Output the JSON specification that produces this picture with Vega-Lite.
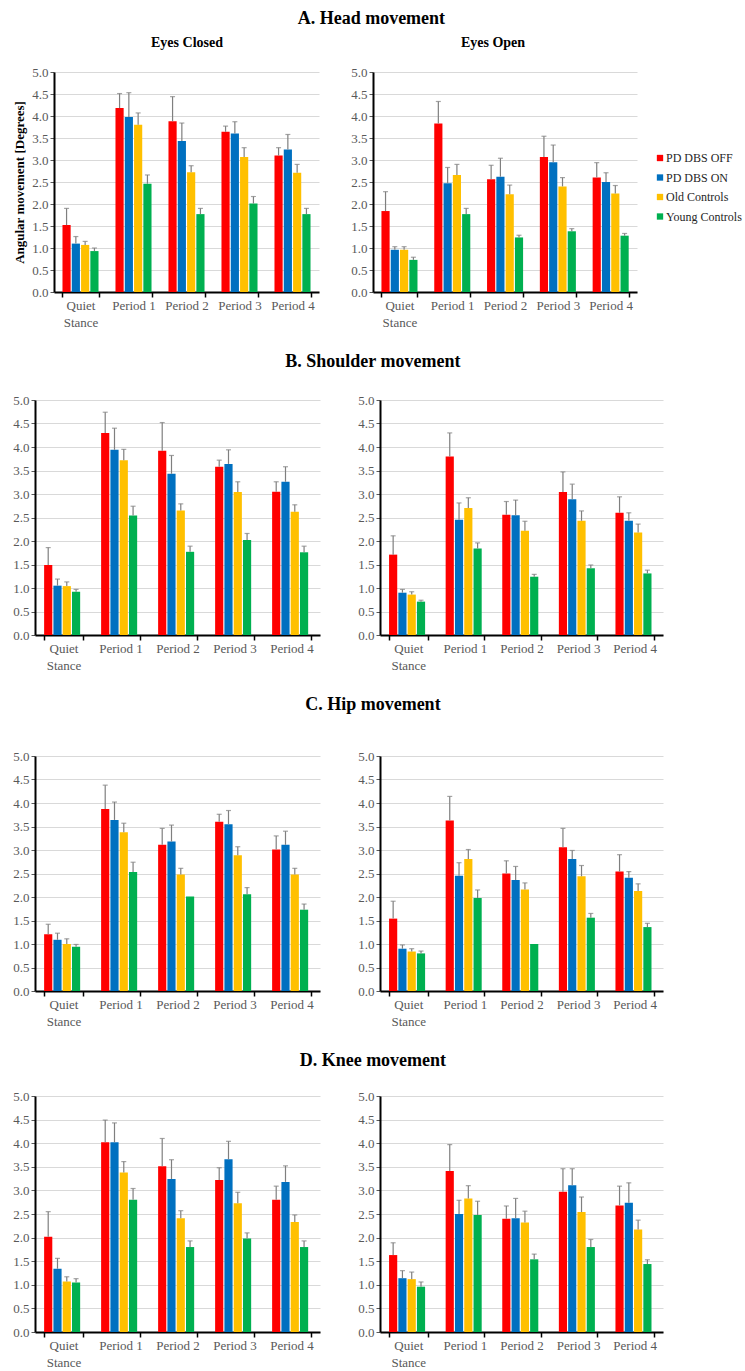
{
  "$schema": "https://vega.github.io/schema/vega-lite/v6.json",
  "description": "Angular movement by period for head, shoulder, hip and knee, eyes closed and eyes open.",
  "padding": {"left": 12, "top": 10, "right": 0, "bottom": 0},
  "background": "white",
  "datasets": {
    "movement": [
      {"region": "Head", "eyes": "Closed", "period": "Quiet Stance", "group": "PD DBS OFF", "mean": 1.52, "upper": 1.90},
      {"region": "Head", "eyes": "Closed", "period": "Quiet Stance", "group": "PD DBS ON", "mean": 1.10, "upper": 1.26},
      {"region": "Head", "eyes": "Closed", "period": "Quiet Stance", "group": "Old Controls", "mean": 1.07, "upper": 1.15},
      {"region": "Head", "eyes": "Closed", "period": "Quiet Stance", "group": "Young  Controls", "mean": 0.93, "upper": 1.00},
      {"region": "Head", "eyes": "Closed", "period": "Period 1", "group": "PD DBS OFF", "mean": 4.18, "upper": 4.51},
      {"region": "Head", "eyes": "Closed", "period": "Period 1", "group": "PD DBS ON", "mean": 3.98, "upper": 4.53},
      {"region": "Head", "eyes": "Closed", "period": "Period 1", "group": "Old Controls", "mean": 3.80, "upper": 4.07},
      {"region": "Head", "eyes": "Closed", "period": "Period 1", "group": "Young  Controls", "mean": 2.46, "upper": 2.66},
      {"region": "Head", "eyes": "Closed", "period": "Period 2", "group": "PD DBS OFF", "mean": 3.88, "upper": 4.44},
      {"region": "Head", "eyes": "Closed", "period": "Period 2", "group": "PD DBS ON", "mean": 3.43, "upper": 3.84},
      {"region": "Head", "eyes": "Closed", "period": "Period 2", "group": "Old Controls", "mean": 2.72, "upper": 2.87},
      {"region": "Head", "eyes": "Closed", "period": "Period 2", "group": "Young  Controls", "mean": 1.77, "upper": 1.90},
      {"region": "Head", "eyes": "Closed", "period": "Period 3", "group": "PD DBS OFF", "mean": 3.64, "upper": 3.77},
      {"region": "Head", "eyes": "Closed", "period": "Period 3", "group": "PD DBS ON", "mean": 3.60, "upper": 3.87},
      {"region": "Head", "eyes": "Closed", "period": "Period 3", "group": "Old Controls", "mean": 3.07, "upper": 3.28},
      {"region": "Head", "eyes": "Closed", "period": "Period 3", "group": "Young  Controls", "mean": 2.01, "upper": 2.17},
      {"region": "Head", "eyes": "Closed", "period": "Period 4", "group": "PD DBS OFF", "mean": 3.10, "upper": 3.28},
      {"region": "Head", "eyes": "Closed", "period": "Period 4", "group": "PD DBS ON", "mean": 3.24, "upper": 3.58},
      {"region": "Head", "eyes": "Closed", "period": "Period 4", "group": "Old Controls", "mean": 2.71, "upper": 2.90},
      {"region": "Head", "eyes": "Closed", "period": "Period 4", "group": "Young  Controls", "mean": 1.77, "upper": 1.90},

      {"region": "Head", "eyes": "Open", "period": "Quiet Stance", "group": "PD DBS OFF", "mean": 1.84, "upper": 2.28},
      {"region": "Head", "eyes": "Open", "period": "Quiet Stance", "group": "PD DBS ON", "mean": 0.96, "upper": 1.03},
      {"region": "Head", "eyes": "Open", "period": "Quiet Stance", "group": "Old Controls", "mean": 0.96, "upper": 1.03},
      {"region": "Head", "eyes": "Open", "period": "Quiet Stance", "group": "Young  Controls", "mean": 0.73, "upper": 0.79},
      {"region": "Head", "eyes": "Open", "period": "Period 1", "group": "PD DBS OFF", "mean": 3.83, "upper": 4.33},
      {"region": "Head", "eyes": "Open", "period": "Period 1", "group": "PD DBS ON", "mean": 2.47, "upper": 2.83},
      {"region": "Head", "eyes": "Open", "period": "Period 1", "group": "Old Controls", "mean": 2.66, "upper": 2.90},
      {"region": "Head", "eyes": "Open", "period": "Period 1", "group": "Young  Controls", "mean": 1.77, "upper": 1.90},
      {"region": "Head", "eyes": "Open", "period": "Period 2", "group": "PD DBS OFF", "mean": 2.56, "upper": 2.88},
      {"region": "Head", "eyes": "Open", "period": "Period 2", "group": "PD DBS ON", "mean": 2.62, "upper": 3.04},
      {"region": "Head", "eyes": "Open", "period": "Period 2", "group": "Old Controls", "mean": 2.22, "upper": 2.43},
      {"region": "Head", "eyes": "Open", "period": "Period 2", "group": "Young  Controls", "mean": 1.24, "upper": 1.29},
      {"region": "Head", "eyes": "Open", "period": "Period 3", "group": "PD DBS OFF", "mean": 3.07, "upper": 3.54},
      {"region": "Head", "eyes": "Open", "period": "Period 3", "group": "PD DBS ON", "mean": 2.95, "upper": 3.34},
      {"region": "Head", "eyes": "Open", "period": "Period 3", "group": "Old Controls", "mean": 2.40, "upper": 2.60},
      {"region": "Head", "eyes": "Open", "period": "Period 3", "group": "Young  Controls", "mean": 1.38, "upper": 1.44},
      {"region": "Head", "eyes": "Open", "period": "Period 4", "group": "PD DBS OFF", "mean": 2.60, "upper": 2.94},
      {"region": "Head", "eyes": "Open", "period": "Period 4", "group": "PD DBS ON", "mean": 2.50, "upper": 2.71},
      {"region": "Head", "eyes": "Open", "period": "Period 4", "group": "Old Controls", "mean": 2.24, "upper": 2.42},
      {"region": "Head", "eyes": "Open", "period": "Period 4", "group": "Young  Controls", "mean": 1.28, "upper": 1.33},

      {"region": "Shoulder", "eyes": "Closed", "period": "Quiet Stance", "group": "PD DBS OFF", "mean": 1.49, "upper": 1.86},
      {"region": "Shoulder", "eyes": "Closed", "period": "Quiet Stance", "group": "PD DBS ON", "mean": 1.05, "upper": 1.19},
      {"region": "Shoulder", "eyes": "Closed", "period": "Quiet Stance", "group": "Old Controls", "mean": 1.04, "upper": 1.13},
      {"region": "Shoulder", "eyes": "Closed", "period": "Quiet Stance", "group": "Young  Controls", "mean": 0.92, "upper": 0.97},
      {"region": "Shoulder", "eyes": "Closed", "period": "Period 1", "group": "PD DBS OFF", "mean": 4.30, "upper": 4.74},
      {"region": "Shoulder", "eyes": "Closed", "period": "Period 1", "group": "PD DBS ON", "mean": 3.94, "upper": 4.40},
      {"region": "Shoulder", "eyes": "Closed", "period": "Period 1", "group": "Old Controls", "mean": 3.72, "upper": 3.95},
      {"region": "Shoulder", "eyes": "Closed", "period": "Period 1", "group": "Young  Controls", "mean": 2.54, "upper": 2.74},
      {"region": "Shoulder", "eyes": "Closed", "period": "Period 2", "group": "PD DBS OFF", "mean": 3.92, "upper": 4.52},
      {"region": "Shoulder", "eyes": "Closed", "period": "Period 2", "group": "PD DBS ON", "mean": 3.43, "upper": 3.82},
      {"region": "Shoulder", "eyes": "Closed", "period": "Period 2", "group": "Old Controls", "mean": 2.65, "upper": 2.79},
      {"region": "Shoulder", "eyes": "Closed", "period": "Period 2", "group": "Young  Controls", "mean": 1.77, "upper": 1.89},
      {"region": "Shoulder", "eyes": "Closed", "period": "Period 3", "group": "PD DBS OFF", "mean": 3.58, "upper": 3.72},
      {"region": "Shoulder", "eyes": "Closed", "period": "Period 3", "group": "PD DBS ON", "mean": 3.64, "upper": 3.94},
      {"region": "Shoulder", "eyes": "Closed", "period": "Period 3", "group": "Old Controls", "mean": 3.04, "upper": 3.26},
      {"region": "Shoulder", "eyes": "Closed", "period": "Period 3", "group": "Young  Controls", "mean": 2.02, "upper": 2.16},
      {"region": "Shoulder", "eyes": "Closed", "period": "Period 4", "group": "PD DBS OFF", "mean": 3.05, "upper": 3.26},
      {"region": "Shoulder", "eyes": "Closed", "period": "Period 4", "group": "PD DBS ON", "mean": 3.26, "upper": 3.58},
      {"region": "Shoulder", "eyes": "Closed", "period": "Period 4", "group": "Old Controls", "mean": 2.62, "upper": 2.77},
      {"region": "Shoulder", "eyes": "Closed", "period": "Period 4", "group": "Young  Controls", "mean": 1.76, "upper": 1.89},

      {"region": "Shoulder", "eyes": "Open", "period": "Quiet Stance", "group": "PD DBS OFF", "mean": 1.71, "upper": 2.11},
      {"region": "Shoulder", "eyes": "Open", "period": "Quiet Stance", "group": "PD DBS ON", "mean": 0.90, "upper": 0.97},
      {"region": "Shoulder", "eyes": "Open", "period": "Quiet Stance", "group": "Old Controls", "mean": 0.86, "upper": 0.92},
      {"region": "Shoulder", "eyes": "Open", "period": "Quiet Stance", "group": "Young  Controls", "mean": 0.71, "upper": 0.74},
      {"region": "Shoulder", "eyes": "Open", "period": "Period 1", "group": "PD DBS OFF", "mean": 3.80, "upper": 4.30},
      {"region": "Shoulder", "eyes": "Open", "period": "Period 1", "group": "PD DBS ON", "mean": 2.45, "upper": 2.81},
      {"region": "Shoulder", "eyes": "Open", "period": "Period 1", "group": "Old Controls", "mean": 2.70, "upper": 2.92},
      {"region": "Shoulder", "eyes": "Open", "period": "Period 1", "group": "Young  Controls", "mean": 1.84, "upper": 1.96},
      {"region": "Shoulder", "eyes": "Open", "period": "Period 2", "group": "PD DBS OFF", "mean": 2.56, "upper": 2.84},
      {"region": "Shoulder", "eyes": "Open", "period": "Period 2", "group": "PD DBS ON", "mean": 2.55, "upper": 2.87},
      {"region": "Shoulder", "eyes": "Open", "period": "Period 2", "group": "Old Controls", "mean": 2.22, "upper": 2.42},
      {"region": "Shoulder", "eyes": "Open", "period": "Period 2", "group": "Young  Controls", "mean": 1.24, "upper": 1.29},
      {"region": "Shoulder", "eyes": "Open", "period": "Period 3", "group": "PD DBS OFF", "mean": 3.04, "upper": 3.47},
      {"region": "Shoulder", "eyes": "Open", "period": "Period 3", "group": "PD DBS ON", "mean": 2.89, "upper": 3.21},
      {"region": "Shoulder", "eyes": "Open", "period": "Period 3", "group": "Old Controls", "mean": 2.43, "upper": 2.64},
      {"region": "Shoulder", "eyes": "Open", "period": "Period 3", "group": "Young  Controls", "mean": 1.42, "upper": 1.49},
      {"region": "Shoulder", "eyes": "Open", "period": "Period 4", "group": "PD DBS OFF", "mean": 2.60, "upper": 2.94},
      {"region": "Shoulder", "eyes": "Open", "period": "Period 4", "group": "PD DBS ON", "mean": 2.43, "upper": 2.60},
      {"region": "Shoulder", "eyes": "Open", "period": "Period 4", "group": "Old Controls", "mean": 2.18, "upper": 2.36},
      {"region": "Shoulder", "eyes": "Open", "period": "Period 4", "group": "Young  Controls", "mean": 1.31, "upper": 1.38},

      {"region": "Hip", "eyes": "Closed", "period": "Quiet Stance", "group": "PD DBS OFF", "mean": 1.21, "upper": 1.42},
      {"region": "Hip", "eyes": "Closed", "period": "Quiet Stance", "group": "PD DBS ON", "mean": 1.09, "upper": 1.23},
      {"region": "Hip", "eyes": "Closed", "period": "Quiet Stance", "group": "Old Controls", "mean": 1.00, "upper": 1.11},
      {"region": "Hip", "eyes": "Closed", "period": "Quiet Stance", "group": "Young  Controls", "mean": 0.94, "upper": 0.99},
      {"region": "Hip", "eyes": "Closed", "period": "Period 1", "group": "PD DBS OFF", "mean": 3.87, "upper": 4.38},
      {"region": "Hip", "eyes": "Closed", "period": "Period 1", "group": "PD DBS ON", "mean": 3.64, "upper": 4.02},
      {"region": "Hip", "eyes": "Closed", "period": "Period 1", "group": "Old Controls", "mean": 3.38, "upper": 3.57},
      {"region": "Hip", "eyes": "Closed", "period": "Period 1", "group": "Young  Controls", "mean": 2.53, "upper": 2.74},
      {"region": "Hip", "eyes": "Closed", "period": "Period 2", "group": "PD DBS OFF", "mean": 3.11, "upper": 3.46},
      {"region": "Hip", "eyes": "Closed", "period": "Period 2", "group": "PD DBS ON", "mean": 3.18, "upper": 3.53},
      {"region": "Hip", "eyes": "Closed", "period": "Period 2", "group": "Old Controls", "mean": 2.48, "upper": 2.61},
      {"region": "Hip", "eyes": "Closed", "period": "Period 2", "group": "Young  Controls", "mean": 2.01, "upper": 2.01},
      {"region": "Hip", "eyes": "Closed", "period": "Period 3", "group": "PD DBS OFF", "mean": 3.60, "upper": 3.76},
      {"region": "Hip", "eyes": "Closed", "period": "Period 3", "group": "PD DBS ON", "mean": 3.55, "upper": 3.84},
      {"region": "Hip", "eyes": "Closed", "period": "Period 3", "group": "Old Controls", "mean": 2.89, "upper": 3.07},
      {"region": "Hip", "eyes": "Closed", "period": "Period 3", "group": "Young  Controls", "mean": 2.06, "upper": 2.20},
      {"region": "Hip", "eyes": "Closed", "period": "Period 4", "group": "PD DBS OFF", "mean": 3.01, "upper": 3.30},
      {"region": "Hip", "eyes": "Closed", "period": "Period 4", "group": "PD DBS ON", "mean": 3.11, "upper": 3.40},
      {"region": "Hip", "eyes": "Closed", "period": "Period 4", "group": "Old Controls", "mean": 2.48, "upper": 2.61},
      {"region": "Hip", "eyes": "Closed", "period": "Period 4", "group": "Young  Controls", "mean": 1.73, "upper": 1.85},

      {"region": "Hip", "eyes": "Open", "period": "Quiet Stance", "group": "PD DBS OFF", "mean": 1.54, "upper": 1.91},
      {"region": "Hip", "eyes": "Open", "period": "Quiet Stance", "group": "PD DBS ON", "mean": 0.90, "upper": 0.98},
      {"region": "Hip", "eyes": "Open", "period": "Quiet Stance", "group": "Old Controls", "mean": 0.84, "upper": 0.90},
      {"region": "Hip", "eyes": "Open", "period": "Quiet Stance", "group": "Young  Controls", "mean": 0.80, "upper": 0.85},
      {"region": "Hip", "eyes": "Open", "period": "Period 1", "group": "PD DBS OFF", "mean": 3.63, "upper": 4.14},
      {"region": "Hip", "eyes": "Open", "period": "Period 1", "group": "PD DBS ON", "mean": 2.45, "upper": 2.73},
      {"region": "Hip", "eyes": "Open", "period": "Period 1", "group": "Old Controls", "mean": 2.81, "upper": 3.01},
      {"region": "Hip", "eyes": "Open", "period": "Period 1", "group": "Young  Controls", "mean": 1.98, "upper": 2.15},
      {"region": "Hip", "eyes": "Open", "period": "Period 2", "group": "PD DBS OFF", "mean": 2.50, "upper": 2.77},
      {"region": "Hip", "eyes": "Open", "period": "Period 2", "group": "PD DBS ON", "mean": 2.36, "upper": 2.65},
      {"region": "Hip", "eyes": "Open", "period": "Period 2", "group": "Old Controls", "mean": 2.16, "upper": 2.30},
      {"region": "Hip", "eyes": "Open", "period": "Period 2", "group": "Young  Controls", "mean": 1.00, "upper": 1.00},
      {"region": "Hip", "eyes": "Open", "period": "Period 3", "group": "PD DBS OFF", "mean": 3.06, "upper": 3.46},
      {"region": "Hip", "eyes": "Open", "period": "Period 3", "group": "PD DBS ON", "mean": 2.81, "upper": 2.99},
      {"region": "Hip", "eyes": "Open", "period": "Period 3", "group": "Old Controls", "mean": 2.44, "upper": 2.67},
      {"region": "Hip", "eyes": "Open", "period": "Period 3", "group": "Young  Controls", "mean": 1.56, "upper": 1.65},
      {"region": "Hip", "eyes": "Open", "period": "Period 4", "group": "PD DBS OFF", "mean": 2.54, "upper": 2.90},
      {"region": "Hip", "eyes": "Open", "period": "Period 4", "group": "PD DBS ON", "mean": 2.41, "upper": 2.54},
      {"region": "Hip", "eyes": "Open", "period": "Period 4", "group": "Old Controls", "mean": 2.13, "upper": 2.28},
      {"region": "Hip", "eyes": "Open", "period": "Period 4", "group": "Young  Controls", "mean": 1.36, "upper": 1.44},

      {"region": "Knee", "eyes": "Closed", "period": "Quiet Stance", "group": "PD DBS OFF", "mean": 2.02, "upper": 2.55},
      {"region": "Knee", "eyes": "Closed", "period": "Quiet Stance", "group": "PD DBS ON", "mean": 1.34, "upper": 1.56},
      {"region": "Knee", "eyes": "Closed", "period": "Quiet Stance", "group": "Old Controls", "mean": 1.07, "upper": 1.17},
      {"region": "Knee", "eyes": "Closed", "period": "Quiet Stance", "group": "Young  Controls", "mean": 1.05, "upper": 1.13},
      {"region": "Knee", "eyes": "Closed", "period": "Period 1", "group": "PD DBS OFF", "mean": 4.02, "upper": 4.49},
      {"region": "Knee", "eyes": "Closed", "period": "Period 1", "group": "PD DBS ON", "mean": 4.02, "upper": 4.43},
      {"region": "Knee", "eyes": "Closed", "period": "Period 1", "group": "Old Controls", "mean": 3.38, "upper": 3.61},
      {"region": "Knee", "eyes": "Closed", "period": "Period 1", "group": "Young  Controls", "mean": 2.80, "upper": 3.04},
      {"region": "Knee", "eyes": "Closed", "period": "Period 2", "group": "PD DBS OFF", "mean": 3.51, "upper": 4.10},
      {"region": "Knee", "eyes": "Closed", "period": "Period 2", "group": "PD DBS ON", "mean": 3.24, "upper": 3.65},
      {"region": "Knee", "eyes": "Closed", "period": "Period 2", "group": "Old Controls", "mean": 2.41, "upper": 2.57},
      {"region": "Knee", "eyes": "Closed", "period": "Period 2", "group": "Young  Controls", "mean": 1.80, "upper": 1.93},
      {"region": "Knee", "eyes": "Closed", "period": "Period 3", "group": "PD DBS OFF", "mean": 3.22, "upper": 3.48},
      {"region": "Knee", "eyes": "Closed", "period": "Period 3", "group": "PD DBS ON", "mean": 3.66, "upper": 4.04},
      {"region": "Knee", "eyes": "Closed", "period": "Period 3", "group": "Old Controls", "mean": 2.73, "upper": 2.96},
      {"region": "Knee", "eyes": "Closed", "period": "Period 3", "group": "Young  Controls", "mean": 1.98, "upper": 2.10},
      {"region": "Knee", "eyes": "Closed", "period": "Period 4", "group": "PD DBS OFF", "mean": 2.80, "upper": 3.09},
      {"region": "Knee", "eyes": "Closed", "period": "Period 4", "group": "PD DBS ON", "mean": 3.18, "upper": 3.52},
      {"region": "Knee", "eyes": "Closed", "period": "Period 4", "group": "Old Controls", "mean": 2.33, "upper": 2.48},
      {"region": "Knee", "eyes": "Closed", "period": "Period 4", "group": "Young  Controls", "mean": 1.80, "upper": 1.93},

      {"region": "Knee", "eyes": "Open", "period": "Quiet Stance", "group": "PD DBS OFF", "mean": 1.63, "upper": 1.89},
      {"region": "Knee", "eyes": "Open", "period": "Quiet Stance", "group": "PD DBS ON", "mean": 1.14, "upper": 1.30},
      {"region": "Knee", "eyes": "Open", "period": "Quiet Stance", "group": "Old Controls", "mean": 1.12, "upper": 1.27},
      {"region": "Knee", "eyes": "Open", "period": "Quiet Stance", "group": "Young  Controls", "mean": 0.96, "upper": 1.06},
      {"region": "Knee", "eyes": "Open", "period": "Period 1", "group": "PD DBS OFF", "mean": 3.41, "upper": 3.97},
      {"region": "Knee", "eyes": "Open", "period": "Period 1", "group": "PD DBS ON", "mean": 2.50, "upper": 2.79},
      {"region": "Knee", "eyes": "Open", "period": "Period 1", "group": "Old Controls", "mean": 2.83, "upper": 3.10},
      {"region": "Knee", "eyes": "Open", "period": "Period 1", "group": "Young  Controls", "mean": 2.48, "upper": 2.77},
      {"region": "Knee", "eyes": "Open", "period": "Period 2", "group": "PD DBS OFF", "mean": 2.40, "upper": 2.67},
      {"region": "Knee", "eyes": "Open", "period": "Period 2", "group": "PD DBS ON", "mean": 2.41, "upper": 2.83},
      {"region": "Knee", "eyes": "Open", "period": "Period 2", "group": "Old Controls", "mean": 2.32, "upper": 2.56},
      {"region": "Knee", "eyes": "Open", "period": "Period 2", "group": "Young  Controls", "mean": 1.54, "upper": 1.65},
      {"region": "Knee", "eyes": "Open", "period": "Period 3", "group": "PD DBS OFF", "mean": 2.97, "upper": 3.46},
      {"region": "Knee", "eyes": "Open", "period": "Period 3", "group": "PD DBS ON", "mean": 3.11, "upper": 3.46},
      {"region": "Knee", "eyes": "Open", "period": "Period 3", "group": "Old Controls", "mean": 2.54, "upper": 2.86},
      {"region": "Knee", "eyes": "Open", "period": "Period 3", "group": "Young  Controls", "mean": 1.80, "upper": 1.96},
      {"region": "Knee", "eyes": "Open", "period": "Period 4", "group": "PD DBS OFF", "mean": 2.68, "upper": 3.09},
      {"region": "Knee", "eyes": "Open", "period": "Period 4", "group": "PD DBS ON", "mean": 2.74, "upper": 3.16},
      {"region": "Knee", "eyes": "Open", "period": "Period 4", "group": "Old Controls", "mean": 2.17, "upper": 2.37},
      {"region": "Knee", "eyes": "Open", "period": "Period 4", "group": "Young  Controls", "mean": 1.44, "upper": 1.53}
    ]
  },
  "data": {"name": "movement"},
  "columns": 1,
  "align": "none",
  "spacing": 24,
  "concat": [
    {
      "title": {"text": "A. Head movement", "fontSize": 18, "offset": 8, "dx": 46},
      "spacing": 31,
      "hconcat": [
        {
          "width": 284, "height": 220,
          "title": {"text": "Eyes Closed", "fontSize": 14, "offset": 16, "dx": 10},
          "transform": [{"filter": "datum.region == 'Head' && datum.eyes == 'Closed'"}],
          "encoding": {
            "x": {"field": "period", "type": "nominal", "sort": ["Quiet Stance", "Period 1", "Period 2", "Period 3", "Period 4"], "scale": {"range": [19, 284], "paddingInner": 0.32, "paddingOuter": 0.16}},
            "xOffset": {"field": "group", "type": "nominal", "sort": ["PD DBS OFF", "PD DBS ON", "Old Controls", "Young  Controls"], "scale": {"paddingInner": 0.12}},
            "y": {"field": "mean", "type": "quantitative", "scale": {"domain": [0, 5]}, "title": "Angular movement [Degrees]", "axis": {"offset": -19}}
          },
          "layer": [
            {"mark": "bar", "encoding": {"color": {"field": "group", "type": "nominal", "scale": {"domain": ["PD DBS OFF", "PD DBS ON", "Old Controls", "Young  Controls"], "range": ["#ff0000", "#0070c0", "#ffc000", "#00b050"]}}}},
            {"mark": {"type": "rule", "color": "#7f7f7f", "strokeWidth": 1.2}, "encoding": {"y2": {"field": "upper"}}},
            {"transform": [{"filter": "datum.upper > datum.mean"}], "mark": {"type": "tick", "color": "#7f7f7f", "thickness": 1.2, "size": 5}, "encoding": {"y": {"field": "upper", "type": "quantitative", "title": "Angular movement [Degrees]", "axis": {"offset": -19}}}}
          ]
        },
        {
          "width": 264, "height": 220,
          "title": {"text": "Eyes Open", "fontSize": 14, "offset": 16, "dx": -12},
          "transform": [{"filter": "datum.region == 'Head' && datum.eyes == 'Open'"}],
          "encoding": {
            "x": {"field": "period", "type": "nominal", "sort": ["Quiet Stance", "Period 1", "Period 2", "Period 3", "Period 4"], "scale": {"paddingInner": 0.32, "paddingOuter": 0.16}},
            "xOffset": {"field": "group", "type": "nominal", "sort": ["PD DBS OFF", "PD DBS ON", "Old Controls", "Young  Controls"], "scale": {"paddingInner": 0.12}},
            "y": {"field": "mean", "type": "quantitative", "scale": {"domain": [0, 5]}, "title": null}
          },
          "layer": [
            {"mark": "bar", "encoding": {"color": {"field": "group", "type": "nominal", "scale": {"domain": ["PD DBS OFF", "PD DBS ON", "Old Controls", "Young  Controls"], "range": ["#ff0000", "#0070c0", "#ffc000", "#00b050"]},
              "legend": {"orient": "none", "legendX": 619, "legendY": 80, "title": null, "symbolType": "square", "symbolSize": 40, "symbolStrokeWidth": 0, "labelFont": "Liberation Serif", "labelFontSize": 12, "labelColor": "#262626", "labelOffset": 0, "rowPadding": 7.5}}}},
            {"mark": {"type": "rule", "color": "#7f7f7f", "strokeWidth": 1.2}, "encoding": {"y2": {"field": "upper"}}},
            {"transform": [{"filter": "datum.upper > datum.mean"}], "mark": {"type": "tick", "color": "#7f7f7f", "thickness": 1.2, "size": 5}, "encoding": {"y": {"field": "upper", "type": "quantitative", "title": null}}}
          ]
        }
      ]
    },
    {
      "title": {"text": "B. Shoulder movement", "fontSize": 18, "offset": 23, "dx": 35},
      "spacing": 37,
      "hconcat": [
        {
          "width": 285, "height": 235,
          "transform": [{"filter": "datum.region == 'Shoulder' && datum.eyes == 'Closed'"}],
          "encoding": {
            "x": {"field": "period", "type": "nominal", "sort": ["Quiet Stance", "Period 1", "Period 2", "Period 3", "Period 4"], "scale": {"paddingInner": 0.32, "paddingOuter": 0.16}},
            "xOffset": {"field": "group", "type": "nominal", "sort": ["PD DBS OFF", "PD DBS ON", "Old Controls", "Young  Controls"], "scale": {"paddingInner": 0.12}},
            "y": {"field": "mean", "type": "quantitative", "scale": {"domain": [0, 5]}, "title": null}
          },
          "layer": [
            {"mark": "bar", "encoding": {"color": {"field": "group", "type": "nominal"}}},
            {"mark": {"type": "rule", "color": "#7f7f7f", "strokeWidth": 1.2}, "encoding": {"y2": {"field": "upper"}}},
            {"transform": [{"filter": "datum.upper > datum.mean"}], "mark": {"type": "tick", "color": "#7f7f7f", "thickness": 1.2, "size": 5}, "encoding": {"y": {"field": "upper", "type": "quantitative", "title": null}}}
          ]
        },
        {
          "width": 283, "height": 235,
          "transform": [{"filter": "datum.region == 'Shoulder' && datum.eyes == 'Open'"}],
          "encoding": {
            "x": {"field": "period", "type": "nominal", "sort": ["Quiet Stance", "Period 1", "Period 2", "Period 3", "Period 4"], "scale": {"paddingInner": 0.32, "paddingOuter": 0.16}},
            "xOffset": {"field": "group", "type": "nominal", "sort": ["PD DBS OFF", "PD DBS ON", "Old Controls", "Young  Controls"], "scale": {"paddingInner": 0.12}},
            "y": {"field": "mean", "type": "quantitative", "scale": {"domain": [0, 5]}, "title": null}
          },
          "layer": [
            {"mark": "bar", "encoding": {"color": {"field": "group", "type": "nominal"}}},
            {"mark": {"type": "rule", "color": "#7f7f7f", "strokeWidth": 1.2}, "encoding": {"y2": {"field": "upper"}}},
            {"transform": [{"filter": "datum.upper > datum.mean"}], "mark": {"type": "tick", "color": "#7f7f7f", "thickness": 1.2, "size": 5}, "encoding": {"y": {"field": "upper", "type": "quantitative", "title": null}}}
          ]
        }
      ]
    },
    {
      "title": {"text": "C. Hip movement", "fontSize": 18, "offset": 36, "dx": 35},
      "spacing": 37,
      "hconcat": [
        {
          "width": 285, "height": 235,
          "transform": [{"filter": "datum.region == 'Hip' && datum.eyes == 'Closed'"}],
          "encoding": {
            "x": {"field": "period", "type": "nominal", "sort": ["Quiet Stance", "Period 1", "Period 2", "Period 3", "Period 4"], "scale": {"paddingInner": 0.32, "paddingOuter": 0.16}},
            "xOffset": {"field": "group", "type": "nominal", "sort": ["PD DBS OFF", "PD DBS ON", "Old Controls", "Young  Controls"], "scale": {"paddingInner": 0.12}},
            "y": {"field": "mean", "type": "quantitative", "scale": {"domain": [0, 5]}, "title": null}
          },
          "layer": [
            {"mark": "bar", "encoding": {"color": {"field": "group", "type": "nominal"}}},
            {"mark": {"type": "rule", "color": "#7f7f7f", "strokeWidth": 1.2}, "encoding": {"y2": {"field": "upper"}}},
            {"transform": [{"filter": "datum.upper > datum.mean"}], "mark": {"type": "tick", "color": "#7f7f7f", "thickness": 1.2, "size": 5}, "encoding": {"y": {"field": "upper", "type": "quantitative", "title": null}}}
          ]
        },
        {
          "width": 283, "height": 235,
          "transform": [{"filter": "datum.region == 'Hip' && datum.eyes == 'Open'"}],
          "encoding": {
            "x": {"field": "period", "type": "nominal", "sort": ["Quiet Stance", "Period 1", "Period 2", "Period 3", "Period 4"], "scale": {"paddingInner": 0.32, "paddingOuter": 0.16}},
            "xOffset": {"field": "group", "type": "nominal", "sort": ["PD DBS OFF", "PD DBS ON", "Old Controls", "Young  Controls"], "scale": {"paddingInner": 0.12}},
            "y": {"field": "mean", "type": "quantitative", "scale": {"domain": [0, 5]}, "title": null}
          },
          "layer": [
            {"mark": "bar", "encoding": {"color": {"field": "group", "type": "nominal"}}},
            {"mark": {"type": "rule", "color": "#7f7f7f", "strokeWidth": 1.2}, "encoding": {"y2": {"field": "upper"}}},
            {"transform": [{"filter": "datum.upper > datum.mean"}], "mark": {"type": "tick", "color": "#7f7f7f", "thickness": 1.2, "size": 5}, "encoding": {"y": {"field": "upper", "type": "quantitative", "title": null}}}
          ]
        }
      ]
    },
    {
      "title": {"text": "D. Knee movement", "fontSize": 18, "offset": 20, "dx": 35},
      "spacing": 37,
      "hconcat": [
        {
          "width": 285, "height": 236,
          "transform": [{"filter": "datum.region == 'Knee' && datum.eyes == 'Closed'"}],
          "encoding": {
            "x": {"field": "period", "type": "nominal", "sort": ["Quiet Stance", "Period 1", "Period 2", "Period 3", "Period 4"], "scale": {"paddingInner": 0.32, "paddingOuter": 0.16}},
            "xOffset": {"field": "group", "type": "nominal", "sort": ["PD DBS OFF", "PD DBS ON", "Old Controls", "Young  Controls"], "scale": {"paddingInner": 0.12}},
            "y": {"field": "mean", "type": "quantitative", "scale": {"domain": [0, 5]}, "title": null}
          },
          "layer": [
            {"mark": "bar", "encoding": {"color": {"field": "group", "type": "nominal"}}},
            {"mark": {"type": "rule", "color": "#7f7f7f", "strokeWidth": 1.2}, "encoding": {"y2": {"field": "upper"}}},
            {"transform": [{"filter": "datum.upper > datum.mean"}], "mark": {"type": "tick", "color": "#7f7f7f", "thickness": 1.2, "size": 5}, "encoding": {"y": {"field": "upper", "type": "quantitative", "title": null}}}
          ]
        },
        {
          "width": 283, "height": 236,
          "transform": [{"filter": "datum.region == 'Knee' && datum.eyes == 'Open'"}],
          "encoding": {
            "x": {"field": "period", "type": "nominal", "sort": ["Quiet Stance", "Period 1", "Period 2", "Period 3", "Period 4"], "scale": {"paddingInner": 0.32, "paddingOuter": 0.16}},
            "xOffset": {"field": "group", "type": "nominal", "sort": ["PD DBS OFF", "PD DBS ON", "Old Controls", "Young  Controls"], "scale": {"paddingInner": 0.12}},
            "y": {"field": "mean", "type": "quantitative", "scale": {"domain": [0, 5]}, "title": null}
          },
          "layer": [
            {"mark": "bar", "encoding": {"color": {"field": "group", "type": "nominal"}}},
            {"mark": {"type": "rule", "color": "#7f7f7f", "strokeWidth": 1.2}, "encoding": {"y2": {"field": "upper"}}},
            {"transform": [{"filter": "datum.upper > datum.mean"}], "mark": {"type": "tick", "color": "#7f7f7f", "thickness": 1.2, "size": 5}, "encoding": {"y": {"field": "upper", "type": "quantitative", "title": null}}}
          ]
        }
      ]
    }
  ],
  "config": {
    "view": {"stroke": null},
    "font": "Liberation Serif",
    "title": {"font": "Liberation Serif", "fontWeight": "bold", "color": "#000000", "anchor": "middle"},
    "axisX": {
      "labelFont": "Liberation Serif", "labelFontSize": 13, "labelColor": "#595959", "labelAngle": 0, "labelPadding": 2, "labelLineHeight": 17,
      "labelExpr": "datum.value == 'Quiet Stance' ? ['Quiet', 'Stance'] : datum.value",
      "domainColor": "#000000", "domainWidth": 2, "tickColor": "#000000", "tickWidth": 1.5, "tickSize": 5, "tickBand": "extent",
      "grid": false, "title": null
    },
    "axisY": {
      "labelFont": "Liberation Serif", "labelFontSize": 13, "labelColor": "#595959", "labelPadding": 2,
      "tickCount": 10, "format": ".1f",
      "domainColor": "#000000", "domainWidth": 2, "tickColor": "#595959", "tickSize": 4,
      "grid": true, "gridColor": "#d9d9d9", "gridWidth": 1,
      "titleFont": "Liberation Serif", "titleFontSize": 13, "titleFontWeight": "bold", "titleColor": "#000000", "titlePadding": 5
    }
  }
}
